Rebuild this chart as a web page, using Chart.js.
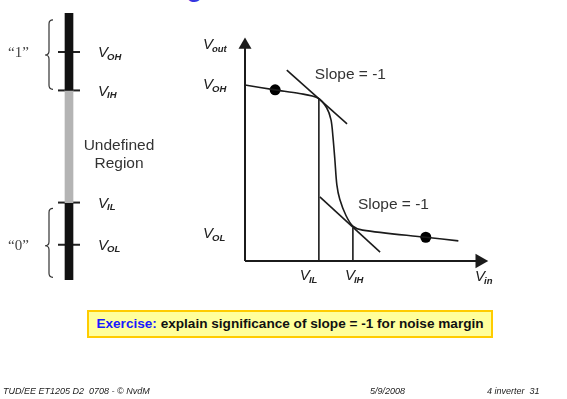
<!DOCTYPE html>
<html lang="en">
<head>
<meta charset="UTF-8">
<title>Noise margins - slope = -1</title>
<script src="https://cdn.jsdelivr.net/npm/chart.js"></script>
<style>
    body {
        margin: 0;
        padding: 0;
        background: #fff;
        font-family: "Liberation Sans", Arial, sans-serif;
    }
    .page {
        position: relative;
        width: 567px;
        height: 399px;
        overflow: hidden;
    }
    canvas {
        position: absolute;
        left: 0;
        top: 0;
    }
    .title-cut {
        position: absolute;
        left: 186px;
        top: -29px;
        font-size: 30px;
        line-height: 30px;
        color: #3636e0;
    }
    .exercise {
        position: absolute;
        left: 87px;
        top: 310px;
        width: 402px;
        height: 24px;
        line-height: 24px;
        background: #ffff9c;
        border: 2px solid #ffcc00;
        font-weight: bold;
        font-size: 13.6px;
        color: #111;
        text-align: center;
        white-space: nowrap;
    }
    .exercise span { color: #1a1aff; }
    .foot {
        position: absolute;
        top: 386px;
        font-size: 9px;
        font-style: italic;
        color: #222;
        white-space: nowrap;
    }
</style>
</head>
<body>
<div class="page">
    <div class="title-cut">g</div>
    <canvas id="levels" width="567" height="399"></canvas>
    <canvas id="vtc" width="567" height="399"></canvas>
    <div class="exercise"><span>Exercise:</span> explain significance of slope = -1 for noise margin</div>
    <div class="foot" style="left:3px">TUD/EE ET1205 D2&nbsp; 0708 - © NvdM</div>
    <div class="foot" style="left:370px">5/9/2008</div>
    <div class="foot" style="left:487px">4 inverter&nbsp; 31</div>
</div>

<script>
    // logic levels (left bar), arbitrary volts
    const levelNames = ['OH', 'IH', 'IL', 'OL'];
    const levelValues = [4.27, 3.55, 1.45, 0.66];
    const barMax = 5;
    const braceOne = [3.57, 4.87];
    const braceZero = [0.05, 1.34];

    // voltage transfer characteristic (right)
    const vtcIn  = [0, 0.62, 1.12, 1.50, 1.68, 1.77, 1.81, 1.85, 1.89, 1.95, 2.08, 2.22, 2.42, 3.72, 4.39];
    const vtcOut = [3.93, 3.82, 3.74, 3.64, 3.42, 3.15, 2.77, 2.25, 1.70, 1.38, 1.01, 0.78, 0.69, 0.53, 0.45];
    const dotIn  = [0.62, 3.72];
    const dotOut = [3.82, 0.53];
    const slope1In  = [0.86, 2.10];
    const slope1Out = [4.26, 3.06];
    const slope2In  = [1.54, 2.78];
    const slope2Out = [1.43, 0.20];
    const vIL = 1.52, vIH = 2.22;
    const vOH = 3.93, vOL = 0.60;
    const outAtIL = 3.64, outAtIH = 0.74;
    const axisMax = 5;

    const ink = '#1b1b1b';

    function pts(xs, ys) {
        return xs.map((x, i) => ({ x: x, y: ys[i] }));
    }

    // V with a subscript, x = left edge, y = middle
    function drawV(ctx, x, y, sub) {
        ctx.save();
        ctx.fillStyle = '#222';
        ctx.textBaseline = 'middle';
        ctx.textAlign = 'left';
        ctx.font = 'italic 15px "Liberation Sans", Arial';
        ctx.fillText('V', x, y);
        const w = ctx.measureText('V').width;
        ctx.font = 'italic bold 9.5px "Liberation Sans", Arial';
        ctx.fillText(sub, x + w - 1, y + 4);
        ctx.restore();
    }

    function drawBrace(ctx, x, top, bottom, tip) {
        const w = 4, r = 4;
        ctx.beginPath();
        ctx.moveTo(x + w, top);
        ctx.quadraticCurveTo(x, top, x, top + r);
        ctx.lineTo(x, tip - r);
        ctx.quadraticCurveTo(x, tip, x - w, tip);
        ctx.quadraticCurveTo(x, tip, x, tip + r);
        ctx.lineTo(x, bottom - r);
        ctx.quadraticCurveTo(x, bottom, x + w, bottom);
        ctx.stroke();
    }

    const levelLabels = {
        id: 'levelLabels',
        afterDatasetsDraw(chart) {
            const ctx = chart.ctx;
            const ys = chart.scales.y;
            const cx = chart.scales.x.getPixelForValue(0);
            levelNames.forEach((n, i) => drawV(ctx, cx + 29, ys.getPixelForValue(levelValues[i]) + 1, n));

            ctx.save();
            ctx.strokeStyle = '#333';
            ctx.lineWidth = 1.2;
            drawBrace(ctx, cx - 20, ys.getPixelForValue(braceOne[1]), ys.getPixelForValue(braceOne[0]),
                ys.getPixelForValue(levelValues[0]) + 3);
            drawBrace(ctx, cx - 20, ys.getPixelForValue(braceZero[1]), ys.getPixelForValue(braceZero[0]),
                ys.getPixelForValue(levelValues[3]) + 1);

            ctx.fillStyle = '#444';
            ctx.font = '15px "Liberation Serif", "Times New Roman"';
            ctx.textBaseline = 'middle';
            ctx.fillText('\u201c1\u201d', 8, ys.getPixelForValue(levelValues[0]) + 1);
            ctx.fillText('\u201c0\u201d', 8, ys.getPixelForValue(levelValues[3]) + 1);

            ctx.fillStyle = '#333';
            ctx.font = '15.5px "Liberation Sans", Arial';
            ctx.textAlign = 'center';
            const mid = (ys.getPixelForValue(levelValues[1]) + ys.getPixelForValue(levelValues[2])) / 2;
            ctx.fillText('Undefined', cx + 50, mid - 1);
            ctx.fillText('Region', cx + 50, mid + 17);
            ctx.restore();
        }
    };

    new Chart(document.getElementById('levels'), {
        type: 'bar',
        data: {
            labels: ['levels'],
            datasets: [
                { data: [[levelValues[1], barMax]], backgroundColor: '#111', barThickness: 8, grouped: false },
                { data: [[levelValues[2], levelValues[1]]], backgroundColor: '#b4b4b4', barThickness: 8, grouped: false },
                { data: [[0, levelValues[2]]], backgroundColor: '#111', barThickness: 8, grouped: false },
                {
                    type: 'line',
                    data: levelValues.map(v => ({ x: 'levels', y: v })),
                    showLine: false,
                    pointStyle: 'line',
                    pointRadius: 11,
                    borderColor: '#222',
                    borderWidth: 2,
                    clip: false
                }
            ]
        },
        options: {
            responsive: false,
            animation: false,
            layout: { padding: { left: 59, right: 488, top: 7, bottom: 119 } },
            scales: {
                x: { display: false },
                y: { display: false, min: 0, max: barMax }
            },
            plugins: { legend: { display: false }, tooltip: { enabled: false } }
        },
        plugins: [levelLabels]
    });

    const vtcLabels = {
        id: 'vtcLabels',
        afterDatasetsDraw(chart) {
            const ctx = chart.ctx;
            const xs = chart.scales.x, ys = chart.scales.y;
            const x0 = xs.getPixelForValue(0), y0 = ys.getPixelForValue(0);
            drawV(ctx, x0 - 42, ys.getPixelForValue(axisMax) + 8, 'out');
            drawV(ctx, x0 - 42, ys.getPixelForValue(vOH), 'OH');
            drawV(ctx, x0 - 42, ys.getPixelForValue(vOL), 'OL');
            drawV(ctx, xs.getPixelForValue(vIL) - 19, y0 + 15, 'IL');
            drawV(ctx, xs.getPixelForValue(vIH) - 8, y0 + 15, 'IH');
            drawV(ctx, xs.getPixelForValue(axisMax) - 13, y0 + 16, 'in');

            ctx.save();
            ctx.fillStyle = '#333';
            ctx.font = '15.5px "Liberation Sans", Arial';
            ctx.textBaseline = 'middle';
            ctx.fillText('Slope = -1', xs.getPixelForValue(vIL) - 4, ys.getPixelForValue(slope1Out[0]) + 5);
            ctx.fillText('Slope = -1', xs.getPixelForValue(vIH) + 5, ys.getPixelForValue(slope2Out[0]) + 8);
            ctx.restore();
        }
    };

    const line = (data, width) => ({
        data: data, showLine: true, pointRadius: 0, borderColor: ink, borderWidth: width, clip: false
    });

    new Chart(document.getElementById('vtc'), {
        type: 'scatter',
        data: {
            datasets: [
                line(pts([0, 4.95], [0, 0]), 2),
                line(pts([0, 0], [0, 4.9]), 2),
                {
                    data: pts([4.83, 0], [0, 4.82]),
                    pointStyle: 'triangle',
                    pointRadius: [8.5, 7.5],
                    rotation: [90, 0],
                    backgroundColor: ink,
                    borderColor: ink,
                    borderWidth: 0,
                    clip: false
                },
                Object.assign(line(pts(vtcIn, vtcOut), 1.6), { tension: 0.3 }),
                line(pts(slope1In, slope1Out), 1.6),
                line(pts(slope2In, slope2Out), 1.6),
                line(pts([vIL, vIL], [0, outAtIL]), 1.6),
                line(pts([vIH, vIH], [0, outAtIH]), 1.6),
                {
                    data: pts(dotIn, dotOut),
                    pointRadius: 5.5,
                    backgroundColor: '#000',
                    borderWidth: 0,
                    clip: false
                }
            ]
        },
        options: {
            responsive: false,
            animation: false,
            layout: { padding: { left: 245, right: 79, top: 37, bottom: 138 } },
            scales: {
                x: { type: 'linear', display: false, min: 0, max: axisMax },
                y: { type: 'linear', display: false, min: 0, max: axisMax }
            },
            plugins: { legend: { display: false }, tooltip: { enabled: false } }
        },
        plugins: [vtcLabels]
    });
</script>
</body>
</html>
